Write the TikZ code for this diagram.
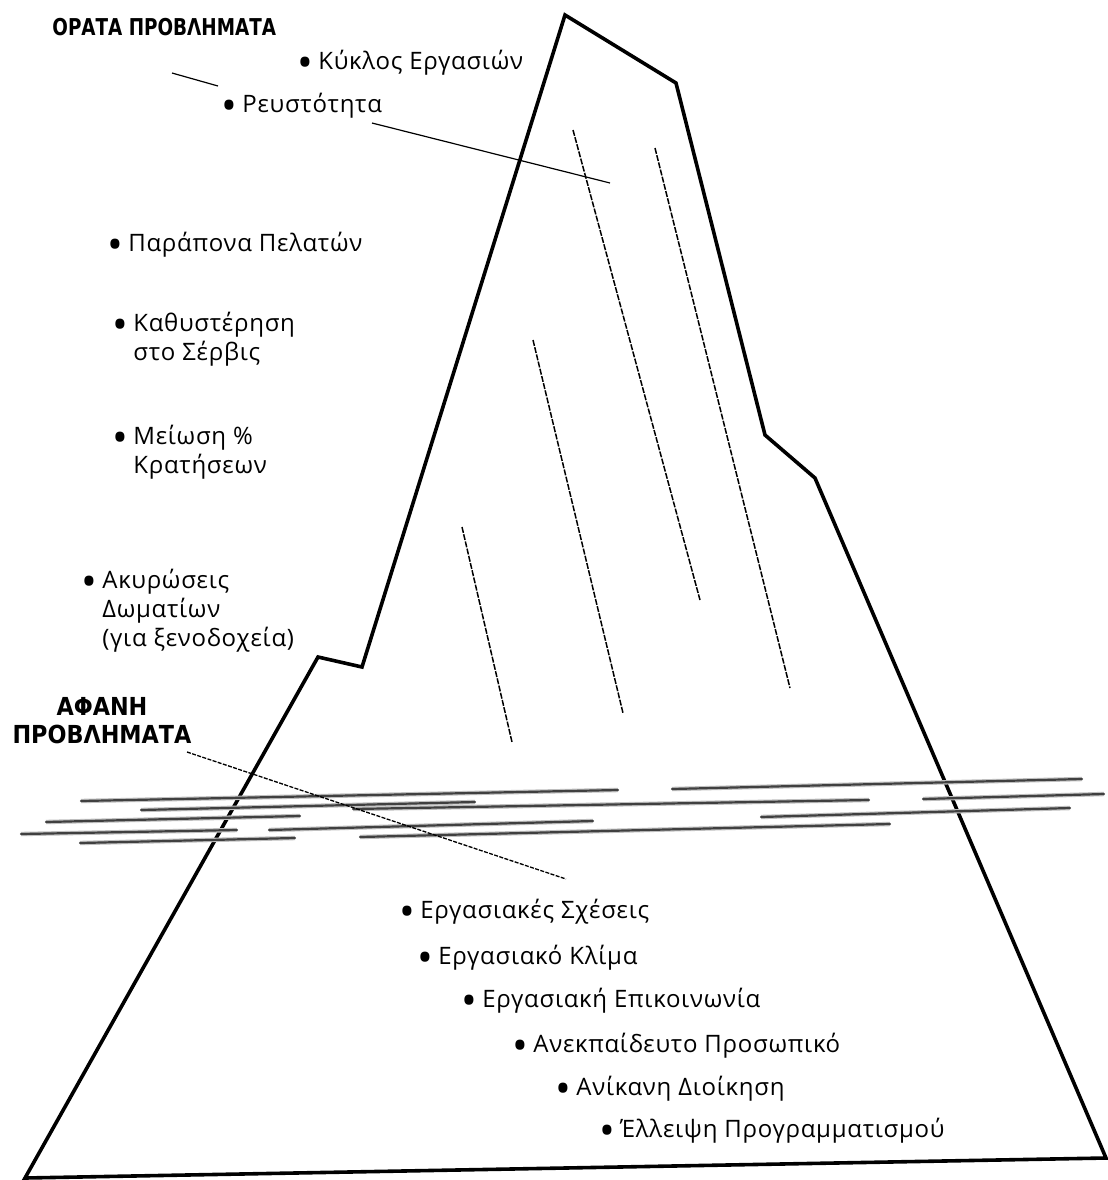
\documentclass[tikz,border=0pt]{standalone}
\usepackage{fontspec}
\setmainfont{Open Sans}
\newfontfamily\itemfont[LetterSpace=3]{Open Sans}
\newfontfamily\headfont[FakeStretch=0.88]{DejaVu Sans Condensed}
\newfontfamily\headfontwide{DejaVu Sans Condensed}
% enlarged list bullet hanging left of the item text
\newcommand\blt{\llap{\raisebox{-0.37em}{\scalebox{1.75}{\textbullet}}\hspace{2.5pt}}}
\begin{document}
\begin{tikzpicture}[x=0.5pt,y=-0.5pt,
  outline/.style={line width=1.8pt, line join=miter},
  leader/.style={line width=0.6pt},
  fineleader/.style={line width=0.65pt, dash pattern=on 2pt off 0.7pt},
  hatch/.style={line width=0.75pt, dash pattern=on 3pt off 0.7pt},
  water/.style={line width=1.1pt, draw=black!75, line cap=round,
                preaction={draw=gray!50, line width=2.2pt}},
  item/.style={anchor=base west, inner sep=0pt, align=left,
               font=\itemfont\fontsize{12}{14.5}\selectfont},
  head/.style={inner sep=0pt, align=center,
               font=\headfont\bfseries\fontsize{11.6}{14}\selectfont},
  bighead/.style={inner sep=0pt, align=center,
               font=\headfontwide\bfseries\fontsize{12.4}{14}\selectfont}]
\useasboundingbox[fill=white] (0,0) rectangle (1108,1180);

% iceberg outline
\draw[outline] (25,1178) -- (318,657) -- (362,667) -- (565,15) -- (676,83)
  -- (765,435) -- (815,478) -- (1106,1158) -- cycle;

% shading strokes on the ice face
\draw[hatch] (573,130) -- (700,600);
\draw[hatch] (655,148) -- (790,688);
\draw[hatch] (533,340) -- (623,713);
\draw[hatch] (462,527) -- (512,742);

% water surface
\draw[water] (81,801) -- (618,790);
\draw[water] (141,810) -- (475,802);
\draw[water] (353,809) -- (869,800);
\draw[water] (46,822) -- (300,816);
\draw[water] (21,834) -- (237,830);
\draw[water] (269,830) -- (593,821);
\draw[water] (360,837) -- (890,824);
\draw[water] (80,843) -- (295,838);
\draw[water] (672,789) -- (1082,779);
\draw[water] (923,799) -- (1104,794);
\draw[water] (761,817) -- (1070,808);

% headings
\node[head, anchor=base west] (visible) at (52,35) {ΟΡΑΤΑ ΠΡΟΒΛΗΜΑΤΑ};
\node[bighead, anchor=north] (hidden) at (102,697) {ΑΦΑΝΗ\\ΠΡΟΒΛΗΜΑΤΑ};

% visible problems
\node[item] (kyklos) at (318,69) {\blt Κύκλος Εργασιών};
\node[item] (reust) at (242,112) {\blt Ρευστότητα};
\node[item] (parap) at (128,251) {\blt Παράπονα Πελατών};
\node[item] (kathy) at (133,360) {\blt Καθυστέρηση\\στο Σέρβις};
\node[item] (meiosi) at (133,473) {\blt Μείωση \%\\Κρατήσεων};
\node[item] (akyr) at (102,646) {\blt Ακυρώσεις\\Δωματίων\\(για ξενοδοχεία)};

% hidden problems
\node[item] (sxeseis) at (420,918) {\blt Εργασιακές Σχέσεις};
\node[item] (klima) at (438,964) {\blt Εργασιακό Κλίμα};
\node[item] (epik) at (482,1007) {\blt Εργασιακή Επικοινωνία};
\node[item] (anekp) at (533,1052) {\blt Ανεκπαίδευτο Προσωπικό};
\node[item] (anik) at (576,1095) {\blt Ανίκανη Διοίκηση};
\node[item] (elleipsi) at (620,1137) {\blt Έλλειψη Προγραμματισμού};

% leader lines
\coordinate (tickA) at (172,73);
\coordinate (tickB) at (218,86);
\coordinate (reustA) at (372,123);
\coordinate (reustB) at (610,183);
\coordinate (hiddenA) at (187,752);
\coordinate (hiddenB) at (566,879);
\draw[leader] (tickA) -- (tickB);
\draw[leader] (reustA) -- (reustB);
\draw[fineleader] (hiddenA) -- (hiddenB);
\end{tikzpicture}
\end{document}
